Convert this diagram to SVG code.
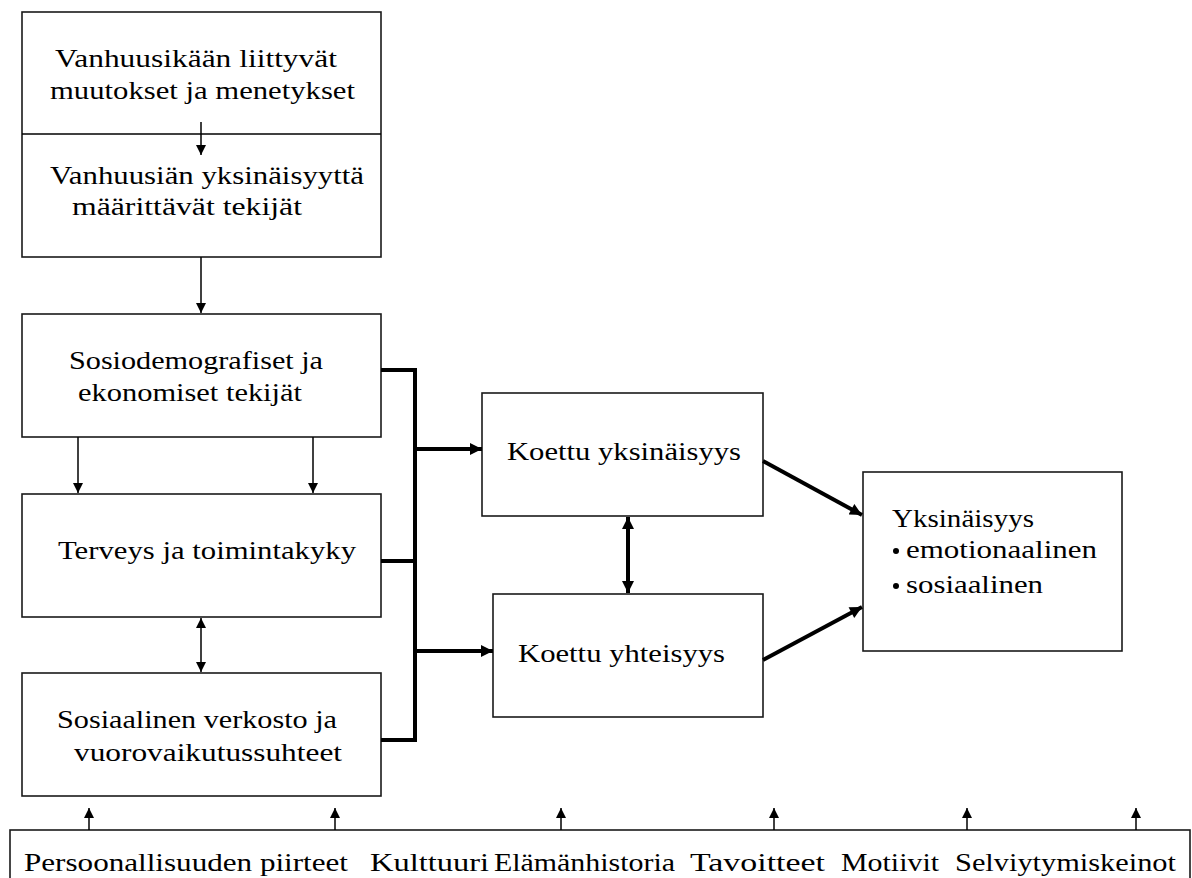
<svg xmlns="http://www.w3.org/2000/svg" width="1192" height="878" viewBox="0 0 1192 878">
<style>
.box{fill:#fff;stroke:#1a1a1a;stroke-width:1.6}
.t{font-family:"Liberation Serif","Times New Roman",serif;font-size:26px;fill:#000}
.tb{font-family:"Liberation Serif","Times New Roman",serif;font-size:25px;fill:#000}
.thin{fill:none;stroke:#000;stroke-width:1.5}
.thick{fill:none;stroke:#000;stroke-width:4}
</style>
<defs>
<marker id="ah" markerUnits="userSpaceOnUse" markerWidth="10" markerHeight="12" refX="10" refY="5" orient="auto-start-reverse" viewBox="0 0 10 10">
<path d="M0,0 L10,5 L0,10 Z" fill="#000"/>
</marker>
<marker id="ahT" markerUnits="userSpaceOnUse" markerWidth="13" markerHeight="12" refX="12" refY="6" orient="auto-start-reverse" viewBox="0 0 12 12">
<path d="M0,0 L12,6 L0,12 Z" fill="#000"/>
</marker>
</defs>
<rect width="1192" height="878" fill="#fff"/>

<g id="node-vanhuus">
<rect class="box" x="22" y="12" width="359" height="245"/>
<line class="thin" x1="22" y1="134" x2="381" y2="134"/>
<text class="t" x="55" y="67" textLength="282" lengthAdjust="spacingAndGlyphs">Vanhuusikään liittyvät</text>
<text class="t" x="50" y="99" textLength="305" lengthAdjust="spacingAndGlyphs">muutokset ja menetykset</text>
<text class="t" x="50" y="184" textLength="314" lengthAdjust="spacingAndGlyphs">Vanhuusiän yksinäisyyttä</text>
<text class="t" x="72" y="215" textLength="230" lengthAdjust="spacingAndGlyphs">määrittävät tekijät</text>
</g>

<g id="node-sosiodem">
<rect class="box" x="22" y="314" width="359" height="123"/>
<text class="t" x="69" y="369" textLength="254" lengthAdjust="spacingAndGlyphs">Sosiodemografiset ja</text>
<text class="t" x="78" y="401" textLength="224" lengthAdjust="spacingAndGlyphs">ekonomiset tekijät</text>
</g>

<g id="node-terveys">
<rect class="box" x="22" y="494" width="359" height="123"/>
<text class="t" x="58" y="559" textLength="298" lengthAdjust="spacingAndGlyphs">Terveys ja toimintakyky</text>
</g>

<g id="node-sosiaalinen">
<rect class="box" x="22" y="673" width="359" height="123"/>
<text class="t" x="57" y="728" textLength="280" lengthAdjust="spacingAndGlyphs">Sosiaalinen verkosto ja</text>
<text class="t" x="74" y="761" textLength="268" lengthAdjust="spacingAndGlyphs">vuorovaikutussuhteet</text>
</g>

<g id="node-koettu-yksinaisyys">
<rect class="box" x="482" y="393" width="281" height="123"/>
<text class="t" x="507" y="460" textLength="234" lengthAdjust="spacingAndGlyphs">Koettu yksinäisyys</text>
</g>

<g id="node-koettu-yhteisyys">
<rect class="box" x="493" y="594" width="270" height="123"/>
<text class="t" x="518" y="662" textLength="207" lengthAdjust="spacingAndGlyphs">Koettu yhteisyys</text>
</g>

<g id="node-yksinaisyys">
<rect class="box" x="863" y="472" width="259" height="179"/>
<text class="t" x="892" y="527" textLength="142" lengthAdjust="spacingAndGlyphs">Yksinäisyys</text>
<circle cx="896" cy="551" r="3" fill="#000"/>
<text class="t" x="906" y="558" textLength="191" lengthAdjust="spacingAndGlyphs">emotionaalinen</text>
<circle cx="896" cy="586" r="3" fill="#000"/>
<text class="t" x="906" y="593" textLength="137" lengthAdjust="spacingAndGlyphs">sosiaalinen</text>
</g>

<g id="node-tekijat">
<rect class="box" x="10" y="830" width="1180" height="70"/>
<text class="tb" x="24" y="871" textLength="324" lengthAdjust="spacingAndGlyphs">Persoonallisuuden piirteet</text>
<text class="tb" x="370" y="871" textLength="119" lengthAdjust="spacingAndGlyphs">Kulttuuri</text>
<text class="tb" x="494" y="871" textLength="181" lengthAdjust="spacingAndGlyphs">Elämänhistoria</text>
<text class="tb" x="690" y="871" textLength="135" lengthAdjust="spacingAndGlyphs">Tavoitteet</text>
<text class="tb" x="841" y="871" textLength="98" lengthAdjust="spacingAndGlyphs">Motiivit</text>
<text class="tb" x="955" y="871" textLength="221" lengthAdjust="spacingAndGlyphs">Selviytymiskeinot</text>
</g>

<g id="connectors">
<line class="thin" x1="201" y1="122" x2="201" y2="155" marker-end="url(#ah)"/>
<line class="thin" x1="201" y1="257" x2="201" y2="313" marker-end="url(#ah)"/>
<line class="thin" x1="78" y1="437" x2="78" y2="493" marker-end="url(#ah)"/>
<line class="thin" x1="313" y1="437" x2="313" y2="493" marker-end="url(#ah)"/>
<line class="thin" x1="201" y1="618" x2="201" y2="672" marker-start="url(#ah)" marker-end="url(#ah)"/>
<line class="thin" x1="89" y1="830" x2="89" y2="808" marker-end="url(#ah)"/>
<line class="thin" x1="335" y1="830" x2="335" y2="808" marker-end="url(#ah)"/>
<line class="thin" x1="561" y1="830" x2="561" y2="808" marker-end="url(#ah)"/>
<line class="thin" x1="774" y1="830" x2="774" y2="808" marker-end="url(#ah)"/>
<line class="thin" x1="967" y1="830" x2="967" y2="808" marker-end="url(#ah)"/>
<line class="thin" x1="1136" y1="830" x2="1136" y2="808" marker-end="url(#ah)"/>
<path class="thick" d="M381,370 H415 V740 H381 M381,561 H415" stroke-linejoin="miter"/>
<line class="thick" x1="415" y1="449" x2="482" y2="449" marker-end="url(#ahT)"/>
<line class="thick" x1="415" y1="651" x2="493" y2="651" marker-end="url(#ahT)"/>
<line class="thick" x1="628" y1="517" x2="628" y2="593" marker-start="url(#ahT)" marker-end="url(#ahT)"/>
<line class="thick" x1="763" y1="461" x2="862" y2="515" marker-end="url(#ahT)"/>
<line class="thick" x1="763" y1="660" x2="862" y2="607" marker-end="url(#ahT)"/>
</g>
</svg>
